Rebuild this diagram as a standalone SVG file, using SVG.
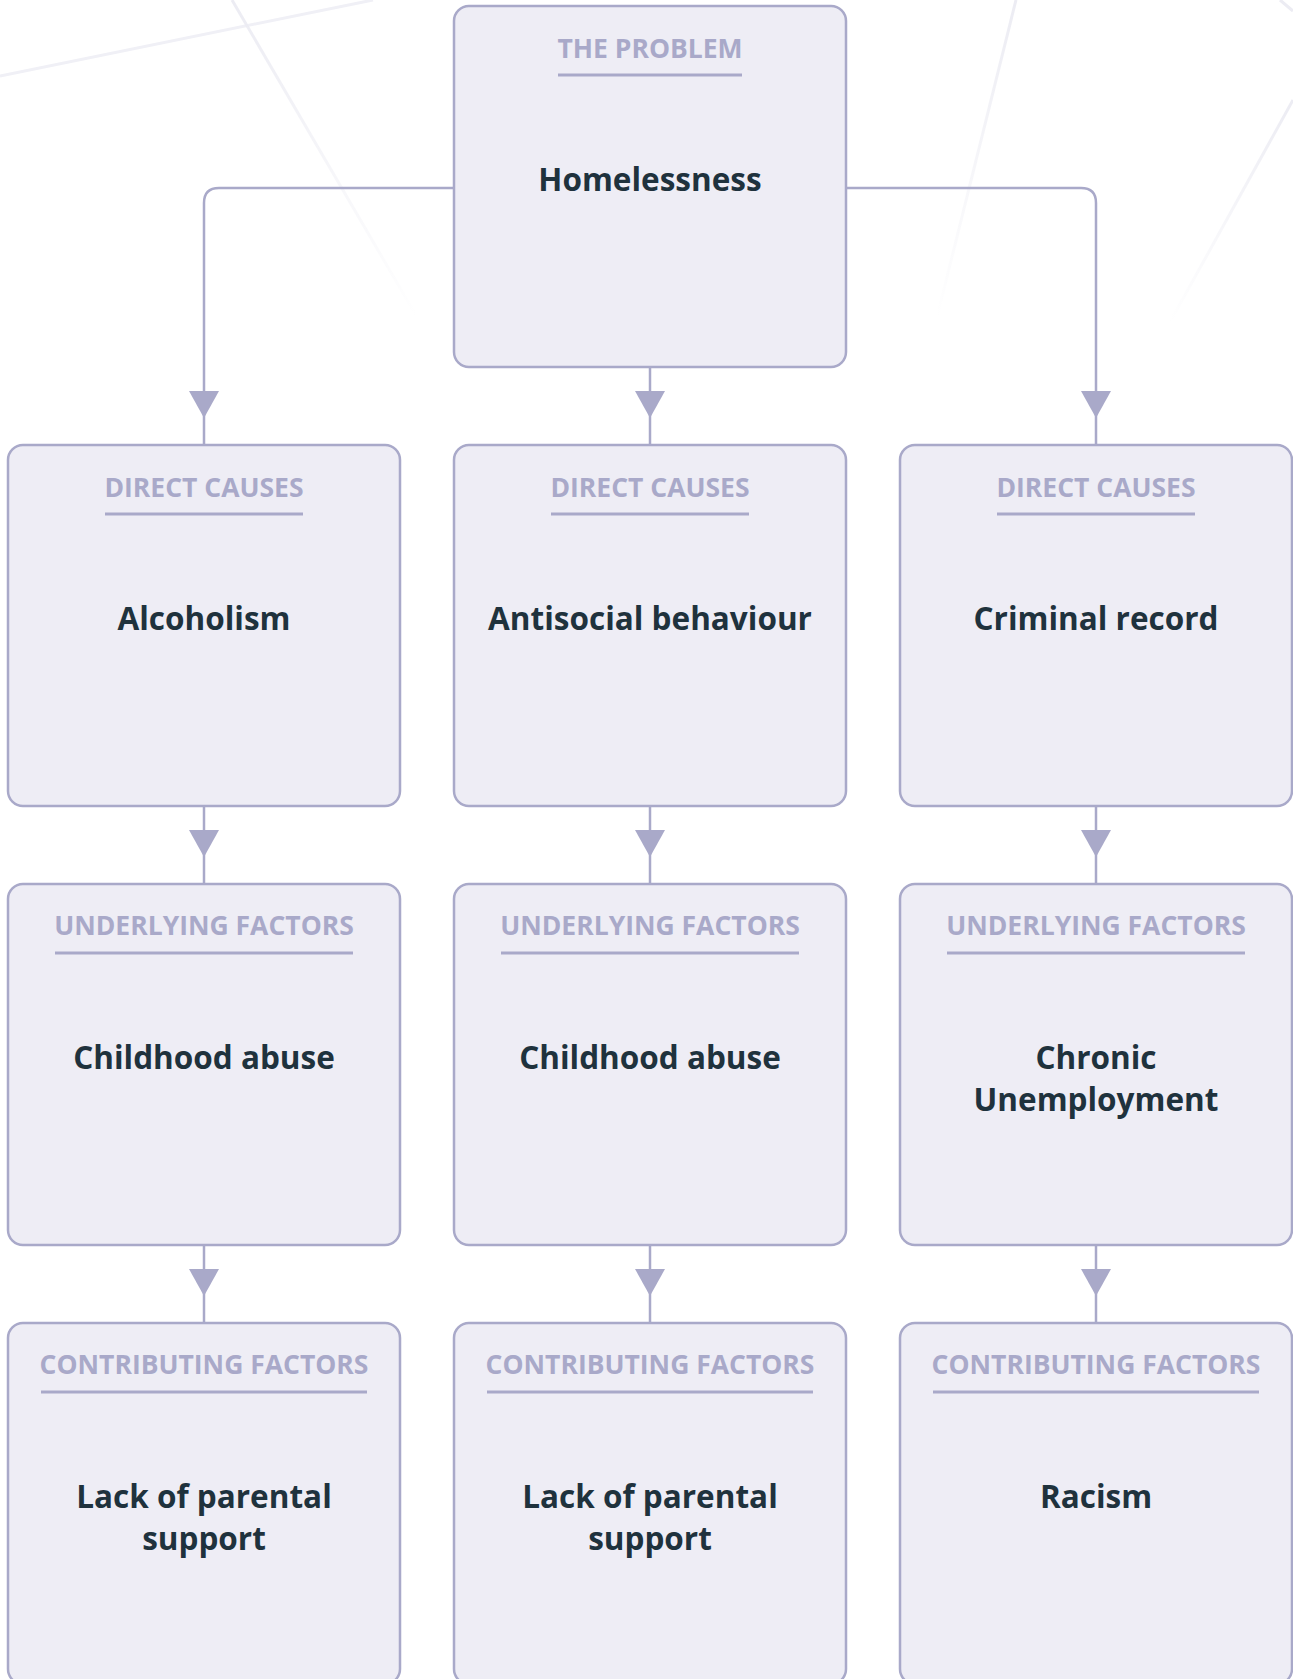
<svg xmlns="http://www.w3.org/2000/svg" width="1293" height="1679" viewBox="0 0 1293 1679">
<style>
.node rect.box{fill:#eeedf5;stroke:#a9a9c9;stroke-width:2.5}
.lbl{font-family:"Open Sans","Noto Sans",sans-serif;font-weight:700;font-size:26.5px;fill:#a9a9c9;text-anchor:middle}
.ul{stroke:#a9a9c9;stroke-width:3}
.main{font-family:"Open Sans","Noto Sans",sans-serif;font-weight:700;font-size:31.5px;fill:#1f323d;text-anchor:middle}
.conn path{fill:none;stroke:#a9a9c9;stroke-width:2.5}
.conn polygon{fill:#a9a9c9}
.bg{fill:none;stroke-width:3}
</style>
<defs>
<linearGradient id="g1" gradientUnits="userSpaceOnUse" x1="232" y1="0" x2="417" y2="317"><stop offset="0" stop-color="#ececf3"/><stop offset="1" stop-color="#ececf3" stop-opacity="0"/></linearGradient>
<linearGradient id="g2" gradientUnits="userSpaceOnUse" x1="1016" y1="0" x2="937" y2="317"><stop offset="0" stop-color="#ececf3"/><stop offset="1" stop-color="#ececf3" stop-opacity="0"/></linearGradient>
<linearGradient id="g3" gradientUnits="userSpaceOnUse" x1="1293" y1="100" x2="1170" y2="322"><stop offset="0" stop-color="#ececf3"/><stop offset="1" stop-color="#ececf3" stop-opacity="0"/></linearGradient>
</defs>
<rect width="1293" height="1679" fill="#ffffff"/>
<g id="background">
<line class="bg" x1="0" y1="76" x2="373" y2="0" stroke="#f0f0f6"/>
<line class="bg" x1="232" y1="0" x2="417" y2="317" stroke="url(#g1)"/>
<line class="bg" x1="1016" y1="0" x2="937" y2="317" stroke="url(#g2)"/>
<line class="bg" x1="1293" y1="100" x2="1170" y2="322" stroke="url(#g3)"/>
<line class="bg" x1="1280" y1="0" x2="1293" y2="11" stroke="#ececf3"/>
</g>
<g id="connectors" class="conn">
<path d="M454 188 H219 Q204 188 204 203 V445"/>
<polygon points="189,391 219,391 204,418"/>
<path d="M650 367 V445"/>
<polygon points="635,391 665,391 650,418"/>
<path d="M846 188 H1081 Q1096 188 1096 203 V445"/>
<polygon points="1081,391 1111,391 1096,418"/>
<path d="M204 806 V884"/>
<polygon points="189,830 219,830 204,857"/>
<path d="M650 806 V884"/>
<polygon points="635,830 665,830 650,857"/>
<path d="M1096 806 V884"/>
<polygon points="1081,830 1111,830 1096,857"/>
<path d="M204 1245 V1323"/>
<polygon points="189,1269 219,1269 204,1296"/>
<path d="M650 1245 V1323"/>
<polygon points="635,1269 665,1269 650,1296"/>
<path d="M1096 1245 V1323"/>
<polygon points="1081,1269 1111,1269 1096,1296"/>
</g>
<g id="n-problem" class="node">
<rect class="box" x="454" y="6" width="392" height="361" rx="15"/>
<text class="lbl" x="650" y="58">THE PROBLEM</text>
<line class="ul" x1="558" y1="75" x2="742" y2="75"/>
<text class="main" x="650" y="191">Homelessness</text>
</g>
<g id="n-direct-1" class="node">
<rect class="box" x="8" y="445" width="392" height="361" rx="15"/>
<text class="lbl" x="204" y="497">DIRECT CAUSES</text>
<line class="ul" x1="105" y1="514" x2="303" y2="514"/>
<text class="main" x="204" y="630">Alcoholism</text>
</g>
<g id="n-direct-2" class="node">
<rect class="box" x="454" y="445" width="392" height="361" rx="15"/>
<text class="lbl" x="650" y="497">DIRECT CAUSES</text>
<line class="ul" x1="551" y1="514" x2="749" y2="514"/>
<text class="main" x="650" y="630">Antisocial behaviour</text>
</g>
<g id="n-direct-3" class="node">
<rect class="box" x="900" y="445" width="392" height="361" rx="15"/>
<text class="lbl" x="1096" y="497">DIRECT CAUSES</text>
<line class="ul" x1="997" y1="514" x2="1195" y2="514"/>
<text class="main" x="1096" y="630">Criminal record</text>
</g>
<g id="n-under-1" class="node">
<rect class="box" x="8" y="884" width="392" height="361" rx="15"/>
<text class="lbl" x="204" y="935">UNDERLYING FACTORS</text>
<line class="ul" x1="55" y1="953" x2="353" y2="953"/>
<text class="main" x="204" y="1069">Childhood abuse</text>
</g>
<g id="n-under-2" class="node">
<rect class="box" x="454" y="884" width="392" height="361" rx="15"/>
<text class="lbl" x="650" y="935">UNDERLYING FACTORS</text>
<line class="ul" x1="501" y1="953" x2="799" y2="953"/>
<text class="main" x="650" y="1069">Childhood abuse</text>
</g>
<g id="n-under-3" class="node">
<rect class="box" x="900" y="884" width="392" height="361" rx="15"/>
<text class="lbl" x="1096" y="935">UNDERLYING FACTORS</text>
<line class="ul" x1="947" y1="953" x2="1245" y2="953"/>
<text class="main" x="1096" y="1069">Chronic</text>
<text class="main" x="1096" y="1111">Unemployment</text>
</g>
<g id="n-contrib-1" class="node">
<rect class="box" x="8" y="1323" width="392" height="361" rx="15"/>
<text class="lbl" x="204" y="1374">CONTRIBUTING FACTORS</text>
<line class="ul" x1="41" y1="1392" x2="367" y2="1392"/>
<text class="main" x="204" y="1508">Lack of parental</text>
<text class="main" x="204" y="1550">support</text>
</g>
<g id="n-contrib-2" class="node">
<rect class="box" x="454" y="1323" width="392" height="361" rx="15"/>
<text class="lbl" x="650" y="1374">CONTRIBUTING FACTORS</text>
<line class="ul" x1="487" y1="1392" x2="813" y2="1392"/>
<text class="main" x="650" y="1508">Lack of parental</text>
<text class="main" x="650" y="1550">support</text>
</g>
<g id="n-contrib-3" class="node">
<rect class="box" x="900" y="1323" width="392" height="361" rx="15"/>
<text class="lbl" x="1096" y="1374">CONTRIBUTING FACTORS</text>
<line class="ul" x1="933" y1="1392" x2="1259" y2="1392"/>
<text class="main" x="1096" y="1508">Racism</text>
</g>
</svg>
